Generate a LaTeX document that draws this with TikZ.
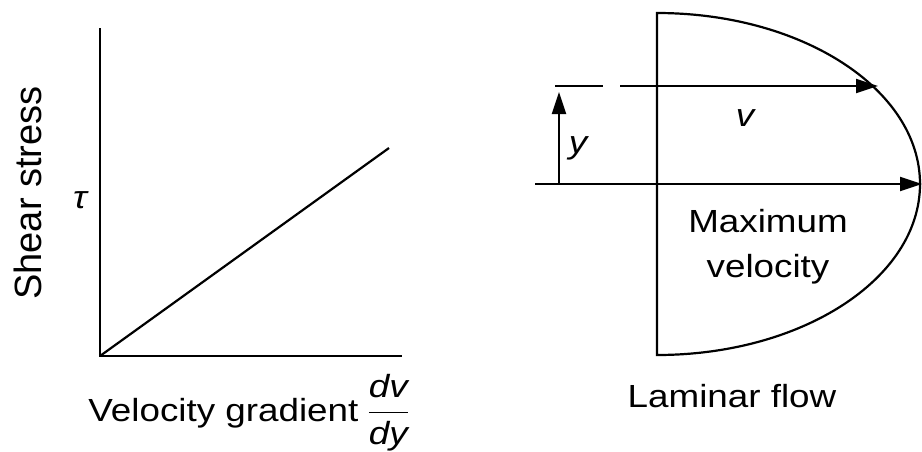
\documentclass[tikz,border=0pt]{standalone}
\usepackage{amsmath}
\usepackage{fontspec}
\setmainfont{Liberation Sans}
\newfontfamily\widefont[FakeStretch=1.15]{Liberation Sans}
\usetikzlibrary{arrows.meta}
\tikzset{
  axis/.style={line width=1.1pt},
  flow/.style={-{Triangle[length=11pt,width=7pt]}, line width=1.1pt},
  txt/.style={font=\widefont\fontsize{16}{22.5}\selectfont, inner sep=0pt},
  sym/.style={font=\widefont\itshape\fontsize{16}{19}\selectfont, inner sep=0pt},
}
\begin{document}
\begin{tikzpicture}[x=0.5pt,y=-0.5pt]
  \useasboundingbox (0,0) rectangle (922,451);
  % shear stress against velocity gradient
  \coordinate (O) at (100,356);
  \coordinate (ytop) at (100,28);
  \coordinate (xend) at (402,356);
  \coordinate (lin) at (389,148);
  \draw[axis] (ytop) -- (O) -- (xend);
  \draw[axis] (O) -- (lin);
  \node[inner sep=0pt, rotate=90, font=\fontsize{19}{22}\selectfont] (shear) at (28,193) {Shear stress};
  \node[sym] (tau) at (80,200) {τ};
  \node[txt, anchor=base west] (grad) at (88,421)
    {Velocity gradient\hspace{4pt}$\displaystyle\frac{\mbox{\itshape dv}}{\mbox{\itshape dy}}$};
  % laminar velocity profile
  \coordinate (top) at (657,13);
  \draw[axis] (top) arc[start angle=-90, end angle=90, x radius=263, y radius=171] -- cycle;
  \coordinate (ax0) at (535,184);
  \coordinate (ax1) at (922,184);
  \draw[flow] (ax0) -- (ax1);
  \coordinate (d0) at (555,86);
  \coordinate (d1) at (603,86);
  \coordinate (v0) at (620,86);
  \coordinate (v1) at (878,86);
  \draw[axis] (d0) -- (d1);
  \draw[flow] (v0) -- (v1);
  \coordinate (y0) at (559,184);
  \coordinate (y1) at (559,92);
  \draw[flow] (y0) -- (y1);
  \node[sym] (ylab) at (578,148) {y};
  \node[sym] (vlab) at (745,118) {v};
  \node[txt, align=center] (maxv) at (768,247) {Maximum\\velocity};
  \node[txt, anchor=base] (lam) at (732,407) {Laminar flow};
\end{tikzpicture}
\end{document}
